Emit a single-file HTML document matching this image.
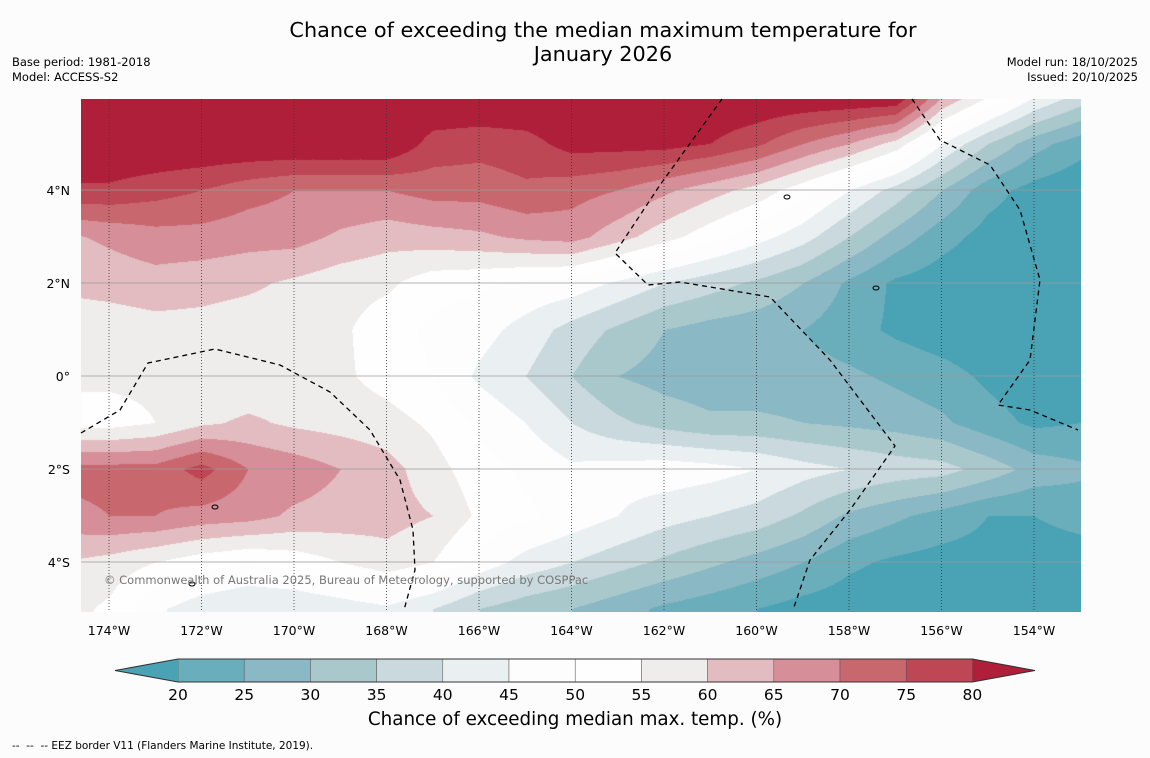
<!DOCTYPE html>
<html><head><meta charset="utf-8">
<style>
html,body{margin:0;padding:0;background:#fcfcfc;width:1150px;height:758px;overflow:hidden;font-family:"DejaVu Sans","Liberation Sans",sans-serif;}
.t{position:absolute;white-space:nowrap;color:#000;}
</style></head><body>
<div class="t" style="left:0;width:1206px;text-align:center;top:19px;font-size:20.8px;line-height:23.5px;">Chance of exceeding the median maximum temperature for<br>January 2026</div>
<div class="t" style="left:12px;top:55px;font-size:11.5px;line-height:15px;">Base period: 1981-2018<br>Model: ACCESS-S2</div>
<div class="t" style="right:12px;top:55px;font-size:11.5px;line-height:15px;text-align:right;">Model run: 18/10/2025<br>Issued: 20/10/2025</div>
<canvas id="map" width="1000" height="513" style="position:absolute;left:81px;top:99px;"></canvas>
<svg id="ov" width="1150" height="758" style="position:absolute;left:0;top:0;"></svg>
<div class="t" style="left:104px;top:573px;font-size:11.5px;color:#777;">© Commonwealth of Australia 2025, Bureau of Meteorology, supported by COSPPac</div>
<div class="t" style="left:0;width:1150px;text-align:center;top:709px;font-size:18.3px;">Chance of exceeding median max. temp. (%)</div>
<div class="t" style="left:12px;top:740px;font-size:10.5px;">--&nbsp; --&nbsp; -- EEZ border V11 (Flanders Marine Institute, 2019).</div>
<script>
const lons=[175,174,173,172,171,170,169,168,167,166,165,164,163,162,161,160,159,158,157,156,155,154,153];
const lats=[6,5,4,3,2,1,0,-1,-2,-3,-4,-5];
const row6N=[85,85,85,85,85,85,85,85,85,85,85,85,85,85,85,85,85,85,85,65,55,45,38];
const row5N=[85,85,85,85,85,85,85,85,78,77,78,82,82,82,80,76,70,65,58,45,35,27,22];
const row4N=[79,79,77,75,72,70,70,70,72,72,74,72,70,66,62,58,52,45,38,30,22,18,16];
const row3N=[64,66,68,68,67,67,64,62,63,64,66,67,62,57,52,47,42,35,28,22,18,17,17];
const row2N=[61,62,63,62,61,59,57,56,52,51,49,48,44,40,37,34,30,24,19,17,16,16,16];
const row1N=[57,57,58,58,57,57,56,52,49,47,43,38,34,30,28,27,25,22,19,17,16,16,16];
const row0=[56,56,56,56,56,57,56,53,50,44,40,35,30,28,27,27,27,26,24,22,19,17,16];
const row1S=[53,53,55,59,61,59,58,57,54,49,45,40,36,33,31,31,30,29,28,26,22,19,20];
const row2S=[72,72,72,77,70,68,65,62,57,52,49,46,47,48,47,45,42,40,38,37,33,28,26];
const row3S=[68,70,70,68,67,64,63,62,60,54,51,48,45,42,40,38,34,29,26,23,20,20,22];
const row4S=[60,58,55,52,50,52,55,58,55,48,43,40,37,34,31,28,25,21,19,18,18,17,17];
const row5S=[57,54,46,42,40,40,42,44,40,35,32,30,27,24,22,20,18,17,17,17,17,17,17];
const grid=[row6N,row5N,row4N,row3N,row2N,row1N,row0,row1S,row2S,row3S,row4S,row5S];
const levels=[20,25,30,35,40,45,50,55,60,65,70,75,80];
const colors=["#4aa3b4","#6aaebb","#8ab8c4","#a9c8cc","#c9d9dd","#eaf0f2","#fdfdfd","#fefefe","#efedec","#e2bcc1","#d68e98","#c9676f","#bd4755","#b01f3a"];
const lonTicks=[174,172,170,168,166,164,162,160,158,156,154];
const latTicks=[4,2,0,-2,-4];
const latLabels=["4°N","2°N","0°","2°S","4°S"];
function xOf(lonW){return 109+(174-lonW)*46.25;}
function yOf(lat){return 376-lat*46.5;}
function lonOfX(x){return 174-(x-109)/46.25;}
function latOfY(y){return (376-y)/46.5;}
function hex(c){return [parseInt(c.slice(1,3),16),parseInt(c.slice(3,5),16),parseInt(c.slice(5,7),16)];}
const rgb=colors.map(hex);
function band(v){let i=0;while(i<levels.length&&v>=levels[i])i++;return i;}
function sample(lon,lat){
  let fi=(lons[0]-lon)/(lons[0]-lons[1]);let fj=(lats[0]-lat)/(lats[0]-lats[1]);
  fi=Math.max(0,Math.min(lons.length-1.0001,fi));fj=Math.max(0,Math.min(lats.length-1.0001,fj));
  const i=Math.floor(fi),j=Math.floor(fj),a=fi-i,b=fj-j;
  return grid[j][i]*(1-a)*(1-b)+grid[j][i+1]*a*(1-b)+grid[j+1][i]*(1-a)*b+grid[j+1][i+1]*a*b;
}
const cv=document.getElementById('map');const ctx=cv.getContext('2d');
const img=ctx.createImageData(1000,513);
for(let py=0;py<513;py++){const lat=latOfY(py+99);for(let px=0;px<1000;px++){
  const v=sample(lonOfX(px+81),lat);const c=rgb[band(v)];const k=(py*1000+px)*4;
  img.data[k]=c[0];img.data[k+1]=c[1];img.data[k+2]=c[2];img.data[k+3]=255;}}
ctx.putImageData(img,0,0);
const NS="http://www.w3.org/2000/svg";const ov=document.getElementById('ov');
function mk(tag,attrs,parent){const e=document.createElementNS(NS,tag);for(const k in attrs)e.setAttribute(k,attrs[k]);(parent||ov).appendChild(e);return e;}
const FF='DejaVu Sans, Liberation Sans, sans-serif';
latTicks.forEach((lt,i)=>{
  const l=mk('line',{x1:81,x2:1081,y1:yOf(lt),y2:yOf(lt),stroke:'#999','stroke-width':0.7});
  
  
  const t=mk('text',{x:70,y:yOf(lt)+5,'text-anchor':'end','font-size':12.5,'font-family':FF});
  t.textContent=latLabels[i];
  
  
});
lonTicks.forEach(ln=>{
  const l=mk('line',{x1:xOf(ln),x2:xOf(ln),y1:99,y2:612,stroke:'#333','stroke-width':0.8,'stroke-dasharray':'1,2'});
  
  
  const t=mk('text',{x:xOf(ln),y:635,'text-anchor':'middle','font-size':12.5,'font-family':FF});
  t.textContent=ln+'°W';
  
  
});
const eez=["M81,433 L120,410 L148,363 L215,349 L280,365 L330,392 L370,430 L400,480 L413,530 L415,570 L404,610",
"M722,99 L660,185 L615,253 L648,285 L680,282 L770,297 L830,360 L895,446 L850,510 L810,560 L793,610",
"M912,99 L940,140 L990,165 L1020,210 L1040,280 L1030,360 L998,405 L1030,410 L1078,430"];
eez.forEach(d=>{const p=mk('path',{d:d,fill:'none',stroke:'#000','stroke-width':1.3,'stroke-dasharray':'5,4'});
  
  });
[[787,197],[876,288],[215,507],[192,584]].forEach(p=>{const e=mk('ellipse',{cx:p[0],cy:p[1],rx:3,ry:2,fill:'none',stroke:'#000','stroke-width':1});
  
  });
const cbX0=178,cbW=66.2,cbY=659,cbH=23;
for(let i=0;i<levels.length-1;i++){
  const r=mk('rect',{x:cbX0+i*cbW,y:cbY,width:cbW,height:cbH,fill:colors[i+1],stroke:'#555','stroke-width':0.5});
  
  
}
const lt=mk('polygon',{points:`${cbX0},${cbY} ${cbX0},${cbY+cbH} 115,${cbY+cbH/2}`,fill:colors[0]});


const xe=cbX0+cbW*12;
const rt=mk('polygon',{points:`${xe},${cbY} ${xe},${cbY+cbH} 1035,${cbY+cbH/2}`,fill:colors[13]});


const ol=mk('polygon',{points:`115,${cbY+cbH/2} ${cbX0},${cbY} ${xe},${cbY} 1035,${cbY+cbH/2} ${xe},${cbY+cbH} ${cbX0},${cbY+cbH}`,fill:'none',stroke:'#333','stroke-width':1});


levels.forEach((lv,i)=>{const t=mk('text',{x:cbX0+i*cbW,y:700,'text-anchor':'middle','font-size':15.5,'font-family':FF});
  t.textContent=lv;
  
  });
</script>
</body></html>
